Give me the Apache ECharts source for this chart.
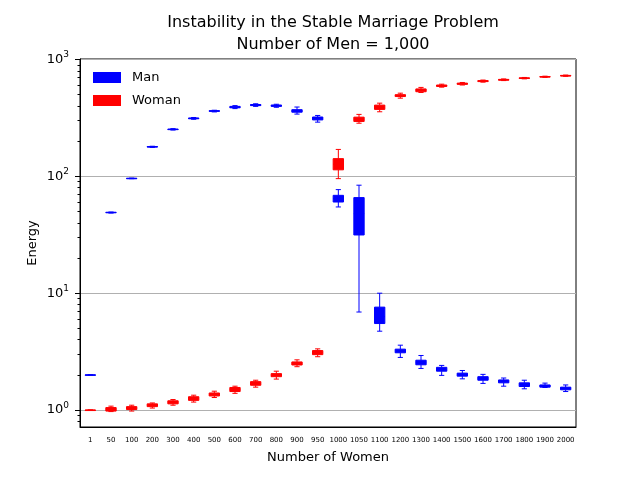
<!DOCTYPE html>
<html>
<head>
<meta charset="utf-8">
<script src="https://cdn.jsdelivr.net/npm/echarts@6/dist/echarts.min.js"></script>
<style>
  html, body { margin: 0; padding: 0; background: #fff; }
  #chart { width: 640px; height: 480px; }
</style>
</head>
<body>
<div id="chart"></div>
<script>
// number of women (x categories)
const categories = ['1', '50', '100', '200', '300', '400', '500', '600', '700', '800', '900', '950',
  '1000', '1050', '1100', '1200', '1300', '1400', '1500', '1600', '1700', '1800', '1900', '2000']

// Man energy: whisker low, Q1, median, Q3, whisker high
const manLow = [2, 48.5, 95.5, 177, 249, 308, 356, 380, 397, 390, 341, 291,
  54.7, 6.9, 4.73, 2.82, 2.27, 1.98, 1.85, 1.69, 1.60, 1.52, 1.56, 1.44]
const manQ1 = [2, 48.8, 95.8, 178, 251, 311, 360, 386, 403, 397, 354, 304,
  60.3, 31.5, 5.5, 3.09, 2.44, 2.15, 1.95, 1.80, 1.71, 1.59, 1.57, 1.49]
const manMed = [2, 49, 96, 179, 252, 313, 362, 391, 407, 402, 362, 313,
  64.5, 48, 6.3, 3.21, 2.56, 2.23, 2.02, 1.87, 1.76, 1.66, 1.61, 1.54]
const manQ3 = [2, 49.3, 96.3, 180, 254, 316, 365, 397, 412, 408, 372, 322,
  68.8, 65.8, 7.6, 3.32, 2.67, 2.32, 2.07, 1.93, 1.81, 1.71, 1.64, 1.57]
const manHigh = [2, 49.5, 96.6, 181, 256, 319, 368, 403, 418, 414, 392, 332,
  77, 84, 10.0, 3.59, 2.93, 2.41, 2.18, 2.02, 1.88, 1.80, 1.70, 1.64]

// Woman energy
const womanLow = [1, 0.97, 0.98, 1.04, 1.10, 1.17, 1.28, 1.39, 1.57, 1.84, 2.35, 2.86,
  95.6, 285, 357, 467, 522, 580, 605, 640, 660, 683, 703, 718]
const womanQ1 = [1, 0.98, 1.01, 1.07, 1.13, 1.21, 1.32, 1.44, 1.63, 1.93, 2.43, 2.98,
  113.7, 295, 374, 482, 530, 588, 613, 647, 665, 688, 707, 722]
const womanMed = [1, 1.02, 1.04, 1.10, 1.17, 1.26, 1.36, 1.50, 1.69, 1.98, 2.51, 3.11,
  127, 309, 391, 492, 547, 596, 620, 653, 670, 692, 711, 726]
const womanQ3 = [1, 1.05, 1.07, 1.13, 1.20, 1.30, 1.40, 1.56, 1.75, 2.05, 2.58, 3.23,
  141.8, 321, 407, 500, 560, 605, 628, 660, 676, 697, 715, 731]
const womanHigh = [1, 1.08, 1.10, 1.15, 1.23, 1.34, 1.45, 1.60, 1.80, 2.15, 2.69, 3.34,
  170, 339, 423, 515, 577, 615, 636, 667, 682, 702, 720, 736]

const majorTicks = [1, 10, 100, 1000]
const minorTicks = [0.8, 0.9, 2, 3, 4, 5, 6, 7, 8, 9, 20, 30, 40, 50, 60, 70, 80, 90,
  200, 300, 400, 500, 600, 700, 800, 900]

const FONT = 'DejaVu Sans'

function toRows(lo, q1, med, q3, hi) {
  return categories.map((c, i) => [i, lo[i], q1[i], med[i], q3[i], hi[i]])
}

// matplotlib style box: half-width caps, filled box
function renderBox(color) {
  return function (params, api) {
    const x = api.value(0)
    const lo = api.coord([x, api.value(1)])
    const q1 = api.coord([x, api.value(2)])
    const md = api.coord([x, api.value(3)])
    const q3 = api.coord([x, api.value(4)])
    const hi = api.coord([x, api.value(5)])
    const w = api.size([1, 1])[0] * 0.5
    const cx = lo[0]
    const line = { stroke: color, lineWidth: 1 }
    return {
      type: 'group',
      children: [
        { type: 'line', shape: { x1: cx, y1: lo[1], x2: cx, y2: q1[1] }, style: line },
        { type: 'line', shape: { x1: cx, y1: q3[1], x2: cx, y2: hi[1] }, style: line },
        { type: 'line', shape: { x1: cx - w / 4, y1: lo[1], x2: cx + w / 4, y2: lo[1] }, style: line },
        { type: 'line', shape: { x1: cx - w / 4, y1: hi[1], x2: cx + w / 4, y2: hi[1] }, style: line },
        {
          type: 'rect',
          shape: { x: cx - w / 2, y: q3[1], width: w, height: Math.max(q1[1] - q3[1], 0.5) },
          style: { fill: color, stroke: color, lineWidth: 1 }
        },
        { type: 'line', shape: { x1: cx - w / 2, y1: md[1], x2: cx + w / 2, y2: md[1] }, style: line }
      ]
    }
  }
}

const chart = echarts.init(document.getElementById('chart'))

chart.setOption({
  animation: false,
  backgroundColor: '#fff',
  textStyle: { fontFamily: FONT },
  title: {
    text: 'Instability in the Stable Marriage Problem\nNumber of Men = 1,000',
    left: 328,
    top: 7,
    textAlign: 'center',
    textStyle: { fontFamily: FONT, fontSize: 16, fontWeight: 'normal', color: '#000', lineHeight: 22 }
  },
  legend: {
    orient: 'vertical',
    left: 88,
    top: 66,
    itemWidth: 28,
    itemHeight: 11,
    itemGap: 10,
    icon: 'rect',
    data: ['Man', 'Woman'],
    textStyle: { fontFamily: FONT, fontSize: 13, color: '#000', padding: [0, 0, 0, 6] }
  },
  grid: {
    left: 80, right: 64, top: 59, bottom: 53,
    show: true, borderColor: '#000', borderWidth: 1
  },
  xAxis: {
    type: 'category',
    data: categories,
    name: 'Number of Women',
    nameLocation: 'middle',
    nameGap: 24,
    nameTextStyle: { fontFamily: FONT, fontSize: 13, color: '#000' },
    axisLine: { lineStyle: { color: '#000' } },
    axisTick: { alignWithLabel: true, length: 4, lineStyle: { color: '#000' } },
    axisLabel: { interval: 0, fontSize: 7, color: '#000', margin: 10 },
    splitLine: { show: false }
  },
  yAxis: [
    {
      type: 'log',
      logBase: 10,
      position: 'left',
      min: 0.716,
      max: 1010,
      name: 'Energy',
      nameLocation: 'middle',
      nameGap: 41,
      nameMoveOverlap: false,
      nameTextStyle: { fontFamily: FONT, fontSize: 13, color: '#000' },
      axisLine: { show: true, lineStyle: { color: '#000' } },
      axisTick: { show: true, length: 5, customValues: majorTicks, lineStyle: { color: '#000' } },
      axisLabel: {
        customValues: majorTicks,
        margin: 11,
        formatter: v => '{b|10}{s|' + Math.round(Math.log10(v)) + '}',
        rich: {
          b: { fontSize: 13, lineHeight: 18, verticalAlign: 'middle', color: '#000', fontFamily: FONT },
          s: { fontSize: 9, verticalAlign: 'top', color: '#000', fontFamily: FONT }
        }
      },
      splitLine: { show: true, lineStyle: { color: '#b0b0b0', width: 1 } }
    },
    {
      type: 'log',
      logBase: 10,
      position: 'left',
      offset: 0,
      min: 0.716,
      max: 1010,
      axisLine: { show: false },
      axisTick: { show: true, length: 2.5, customValues: minorTicks, lineStyle: { color: '#000' } },
      axisLabel: { show: false },
      splitLine: { show: false }
    }
  ],
  series: [
    {
      name: 'Man',
      type: 'custom',
      itemStyle: { color: '#0000ff' },
      renderItem: renderBox('#0000ff'),
      encode: { x: 0, y: [1, 2, 3, 4, 5] },
      data: toRows(manLow, manQ1, manMed, manQ3, manHigh)
    },
    {
      name: 'Woman',
      type: 'custom',
      itemStyle: { color: '#ff0000' },
      renderItem: renderBox('#ff0000'),
      encode: { x: 0, y: [1, 2, 3, 4, 5] },
      data: toRows(womanLow, womanQ1, womanMed, womanQ3, womanHigh)
    }
  ]
})
</script>
</body>
</html>
